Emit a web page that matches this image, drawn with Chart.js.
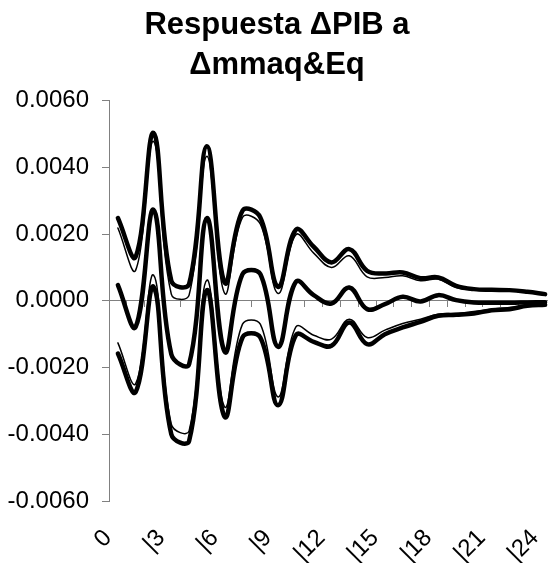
<!DOCTYPE html>
<html>
<head>
<meta charset="utf-8">
<script src="https://cdn.jsdelivr.net/npm/chart.js@4"></script>
<style>
  html, body { margin: 0; padding: 0; background: #fff; overflow: hidden; }
  #wrap { width: 555px; height: 563px; }
</style>
</head>
<body>
<div id="wrap"><canvas id="chart"></canvas></div>
<script>
// Respuesta ΔPIB a Δmmaq&Eq - impulse response with bands
const categories = ['0', '|1', '|2', '|3', '|4', '|5', '|6', '|7', '|8', '|9', '|10', '|11', '|12',
    '|13', '|14', '|15', '|16', '|17', '|18', '|19', '|20', '|21', '|22', '|23', '|24'];
const yTicks = [-0.006, -0.004, -0.002, 0, 0.002, 0.004, 0.006];

const upperThick = [0.00248, 0.00132, 0.00503, 0.0006, 0.0005, 0.00463, 0.00054, 0.0027, 0.0025, 0.00042,
    0.00213, 0.00162, 0.00115, 0.00155, 0.0009, 0.00082, 0.00085, 0.00068, 0.0007, 0.00045,
    0.00035, 0.00033, 0.00032, 0.00027, 0.0002];
const upperThin = [0.00218, 0.00092, 0.00478, 0.0002, 0.00017, 0.00433, 0.00022, 0.0025, 0.0023, 0.00022,
    0.00198, 0.00143, 0.001, 0.00135, 0.00072, 0.0007, 0.00075, 0.0006, 0.00065, 0.0004,
    0.00032, 0.0003, 0.0003, 0.00025, 0.00018];
const response = [0.00047, -0.00078, 0.00273, -0.0016, -0.0019, 0.00248, -0.00153, 0.0008, 0.0008, -0.00138,
    0.00057, 0.00017, -0.00008, 0.0004, -0.00025, -0.0001, 0.00012, -0.00002, 0.00017, 0.00002,
    -0.00005, -0.00006, -0.00006, -0.00005, -0.00004];
const lowerThick = [-0.00158, -0.00273, 0.00042, -0.004, -0.0042, 0.00032, -0.00348, -0.0011, -0.0011, -0.00313,
    -0.00103, -0.00123, -0.00135, -0.00065, -0.0013, -0.001, -0.0008, -0.00063, -0.00045, -0.00042,
    -0.00038, -0.00028, -0.00025, -0.00015, -0.00012];
const lowerThin = [-0.00126, -0.00248, 0.00077, -0.0037, -0.0039, 0.00062, -0.00318, -0.0007, -0.0007, -0.00288,
    -0.00078, -0.00103, -0.00115, -0.00055, -0.0011, -0.00088, -0.00068, -0.00055, -0.0004, -0.00038,
    -0.00032, -0.00025, -0.0002, -0.00013, -0.0001];

const FONT = "'Liberation Sans', Arial, sans-serif";
const AXIS = '#808080';

const line = (data, w) => ({
    data,
    borderColor: '#000',
    borderWidth: w,
    pointRadius: 0,
    tension: 0.4,
    borderJoinStyle: 'round',
    borderCapStyle: 'round',
    fill: false
});

new Chart(document.getElementById('chart'), {
    type: 'line',
    data: {
        labels: categories,
        datasets: [
            line(upperThick, 4.5),
            line(upperThin, 1.5),
            line(response, 4.5),
            line(lowerThick, 4.5),
            line(lowerThin, 1.5)
        ]
    },
    options: {
        responsive: true,
        maintainAspectRatio: false,
        animation: false,
        layout: { padding: { left: 0, right: 1, top: 0, bottom: 0 } },
        plugins: {
            legend: { display: false },
            tooltip: { enabled: false },
            title: {
                display: true,
                text: ['Respuesta ΔPIB a', 'Δmmaq&Eq'],
                color: '#000',
                font: { family: FONT, size: 31, weight: 'bold', lineHeight: 1.3 },
                padding: { top: 5, bottom: 15 }
            }
        },
        scales: {
            x: {
                type: 'category',
                position: 'bottom',
                offset: true,
                grid: { display: false, drawTicks: false },
                border: { display: false },
                ticks: {
                    autoSkip: false,
                    minRotation: 45,
                    maxRotation: 45,
                    padding: 23,
                    labelOffset: -10,
                    color: '#000',
                    font: { family: FONT, size: 24 },
                    callback: (v, i) => (i % 3 === 0 ? categories[i] : '')
                },
                afterFit: s => { s.height = 62; s.paddingLeft = 0; s.paddingRight = 0; }
            },
            x0: {
                type: 'category',
                position: { y: 0 },
                offset: true,
                grid: { offset: true, drawOnChartArea: false, drawTicks: true, tickLength: 6, color: AXIS, lineWidth: 1 },
                border: { display: true, color: AXIS, width: 1 },
                ticks: { display: false }
            },
            y: {
                min: yTicks[0],
                max: yTicks[yTicks.length - 1],
                afterBuildTicks: s => { s.ticks = yTicks.map(v => ({ value: v })); },
                grid: { drawOnChartArea: false, drawTicks: true, tickLength: 7, color: AXIS },
                border: { display: true, color: AXIS, width: 1 },
                ticks: {
                    padding: 13,
                    color: '#000',
                    font: { family: FONT, size: 24 },
                    callback: v => (Math.abs(v) < 1e-9 ? 0 : v).toFixed(4)
                },
                afterFit: s => { s.width = 109; }
            }
        }
    }
});
</script>
</body>
</html>
